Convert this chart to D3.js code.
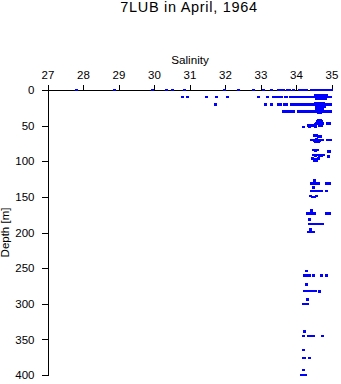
<!DOCTYPE html>
<html><head><meta charset="utf-8">
<script src="https://cdn.jsdelivr.net/npm/d3@7"></script>
<style>body{margin:0;background:#fff}svg{display:block}text{font-family:"Liberation Sans",Arial,sans-serif}</style>
</head><body><svg id="c" width="341" height="384"></svg>
<script>
const title = "7LUB in April, 1964";
const xLabel = "Salinity";
const yLabel = "Depth [m]";
const xTicks = [27,28,29,30,31,32,33,34,35];
const yTicks = [0,50,100,150,200,250,300,350,400];

// [salinity, depth] observations grouped by sampling level
const level0 = [[27.82,0],[28.89,0],[29.96,0],[30.35,0],[30.51,0],[30.86,0],[31.99,0],[32.37,0],[32.81,0],[33.09,0],[33.32,0],[33.5,0],[33.53,0],[33.56,0],[33.6,0],[33.63,0],[33.66,0],[33.75,0],[33.78,0],[33.82,0],[33.92,0],[34.09,0],[34.12,0],[34.15,0],[34.18,0],[34.21,0],[34.25,0],[34.29,0],[34.45,0],[34.48,0],[34.5,0],[34.53,0],[34.56,0],[34.58,0],[34.6,0],[34.62,0],[34.64,0],[34.66,0],[34.68,0],[34.7,0],[34.72,0],[34.75,0],[34.78,0],[34.81,0],[34.84,0],[34.87,0],[34.9,0],[34.93,0],[34.96,0],[34.99,0]];
const level10 = [[30.79,10],[30.93,10],[31.48,10],[31.77,10],[32.08,10],[32.95,10],[33.19,10],[33.38,10],[33.42,10],[33.46,10],[33.5,10],[33.55,10],[33.6,10],[33.7,10],[33.74,10],[33.85,10],[33.88,10],[33.91,10],[33.94,10],[33.97,10],[34.0,10],[34.03,10],[34.06,10],[34.09,10],[34.12,10],[34.15,10],[34.18,10],[34.21,10],[34.24,10],[34.27,10],[34.3,10],[34.33,10],[34.36,10],[34.39,10],[34.42,10],[34.45,10],[34.48,10],[34.51,10],[34.54,10],[34.57,10],[34.6,10],[34.63,10],[34.66,10],[34.69,10],[34.72,10],[34.75,10],[34.78,10],[34.81,10],[34.84,10],[34.87,10],[34.9,10],[34.93,10],[34.96,10],[34.98,10],[34.55,8],[34.62,8],[34.7,8],[34.78,8],[34.85,8],[34.58,12],[34.66,12],[34.74,12],[34.82,12]];
const level20 = [[31.74,20],[33.14,20],[33.3,20],[33.5,20],[33.55,20],[33.69,20],[33.72,20],[33.88,20],[33.92,20],[33.97,20],[34.02,20],[34.06,20],[34.1,20],[34.13,20],[34.16,20],[34.19,20],[34.22,20],[34.25,20],[34.28,20],[34.31,20],[34.34,20],[34.37,20],[34.4,20],[34.43,20],[34.46,20],[34.49,20],[34.52,20],[34.55,20],[34.58,20],[34.61,20],[34.64,20],[34.67,20],[34.7,20],[34.73,20],[34.76,20],[34.79,20],[34.82,20],[34.85,20],[34.88,20],[34.92,20],[34.95,20],[34.98,20],[34.55,18],[34.62,18],[34.7,18],[34.78,18],[34.58,23],[34.65,23],[34.72,23],[34.8,23],[34.6,25],[34.68,25]];
const level30 = [[33.64,30],[33.72,30],[33.78,30],[33.88,30],[33.94,30],[34.06,30],[34.16,30],[34.19,30],[34.22,30],[34.25,30],[34.28,30],[34.31,30],[34.34,30],[34.37,30],[34.4,30],[34.43,30],[34.46,30],[34.49,30],[34.52,30],[34.55,30],[34.58,30],[34.61,30],[34.64,30],[34.67,30],[34.7,30],[34.73,30],[34.76,30],[34.79,30],[34.82,30],[34.85,30],[34.88,30],[34.92,30],[34.95,30],[34.97,30],[34.58,27],[34.64,27],[34.7,27],[34.76,27],[34.62,32],[34.7,32]];
const level50 = [[34.21,52],[34.35,50],[34.39,51],[34.43,50],[34.47,49],[34.51,50],[34.54,51],[34.55,48],[34.59,47],[34.63,46],[34.67,47],[34.71,48],[34.75,47],[34.6,44],[34.64,43],[34.68,42],[34.72,44],[34.66,50],[34.72,50],[34.9,47],[34.94,47]];
const level75 = [[34.53,64],[34.57,64],[34.64,65],[34.69,65],[34.45,70],[34.49,70],[34.53,71],[34.57,69],[34.61,70],[34.65,71],[34.7,70],[34.75,70],[34.55,72],[34.62,72],[34.9,70],[34.96,70]];
const level100 = [[34.5,84],[34.55,85],[34.6,84],[34.91,86],[34.94,86],[34.5,91],[34.55,92],[34.6,91],[34.66,92],[34.72,92],[34.77,91],[34.91,93],[34.47,96],[34.52,97],[34.57,97],[34.62,96],[34.52,99],[34.57,99]];
const level125 = [[34.52,127],[34.44,131],[34.48,131],[34.53,131],[34.58,131],[34.63,131],[34.87,131],[34.93,131],[34.5,137],[34.44,142],[34.49,142],[34.55,142],[34.6,142],[34.66,142],[34.72,142],[34.85,142],[34.42,149],[34.47,150],[34.52,150],[34.57,149]];
const level175 = [[34.44,169],[34.33,173],[34.38,173],[34.43,173],[34.49,173],[34.53,173],[34.87,173],[34.93,173],[34.38,182],[34.38,188],[34.43,188],[34.49,188],[34.55,188],[34.6,188],[34.65,188],[34.75,188],[34.34,199],[34.39,199],[34.44,199],[34.5,199],[34.42,196]];
const level250 = [[34.3,254],[34.23,260],[34.28,260],[34.34,260],[34.39,260],[34.5,260],[34.72,260],[34.86,260],[34.3,273],[34.23,282],[34.28,282],[34.34,282],[34.39,282],[34.45,282],[34.5,282],[34.55,282],[34.65,283],[34.31,294],[34.2,300],[34.26,300],[34.32,300]];
const level350 = [[34.23,339],[34.22,345],[34.36,345],[34.42,345],[34.48,345],[34.74,345],[34.2,365],[34.2,376],[34.25,376],[34.38,376],[34.2,393],[34.16,400],[34.22,400],[34.28,400]];

const svg = d3.select("#c");
const x = d3.scaleLinear().domain([27,35]).range([47.5,331.5]);
const y = d3.scaleLinear().domain([0,400]).range([90,375]);

svg.append("text").attr("x",189).attr("y",12).attr("text-anchor","middle")
  .style("font-size","14.5px").style("letter-spacing","0.7px").text(title);
svg.append("text").attr("x",190).attr("y",64).attr("text-anchor","middle")
  .style("font-size","11.7px").text(xLabel);
svg.append("text").attr("transform","translate(9,232.5) rotate(-90)").attr("text-anchor","middle")
  .style("font-size","11.5px").text(yLabel);

const gx = svg.append("g").attr("transform","translate(0,90)")
  .call(d3.axisTop(x).tickValues(xTicks).tickSize(5).tickSizeOuter(0).tickPadding(6).tickFormat(d3.format("d")));
const gy = svg.append("g").attr("transform","translate(47.5,0)")
  .call(d3.axisLeft(y).tickValues(yTicks).tickSize(6).tickSizeOuter(0).tickPadding(7).tickFormat(d3.format("d")));
[gx,gy].forEach(g=>{
  g.selectAll("text").style("font-size","11.5px").style("font-family","'Liberation Sans',Arial,sans-serif").attr("fill","#000");
  g.selectAll("line,path").attr("stroke","#000").attr("shape-rendering","crispEdges");
});

const all = [level0,level10,level20,level30,level50,level75,level100,level125,level175,level250,level350].flat();
svg.append("g").selectAll("rect").data(all).join("rect")
  .attr("x",d=>x(d[0])-1.5).attr("y",d=>y(d[1])-1.25)
  .attr("width",3).attr("height",2.5).attr("fill","#0000ff").attr("shape-rendering","crispEdges");
</script></body></html>
